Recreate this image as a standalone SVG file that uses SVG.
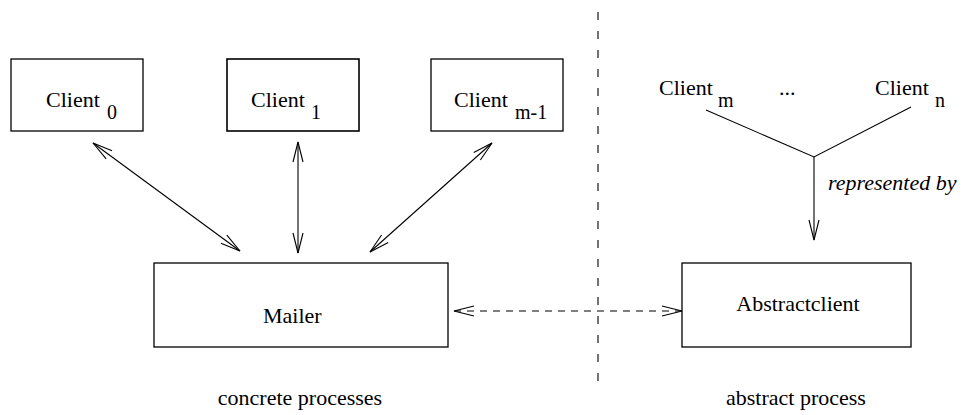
<svg xmlns="http://www.w3.org/2000/svg" width="971" height="415" viewBox="0 0 971 415">
  <style>
    .box { fill: #fff; stroke: #000; stroke-width: 1.3; }
    .lbl { font-family: "Liberation Serif", "Times New Roman", serif; font-size: 22px; fill: #000; }
    .sub { font-family: "Liberation Serif", "Times New Roman", serif; font-size: 20px; fill: #000; }
    .ital { font-style: italic; }
    .mid { text-anchor: middle; }
    .edge { fill: none; stroke: #000; stroke-width: 1.1; }
    .dash { stroke-dasharray: 7 6; }
    .vdash { fill: none; stroke: #000; stroke-width: 1.1; stroke-dasharray: 8 11; }
  </style>
  <defs>
    <marker id="open" viewBox="-22 -7 24 14" refX="0" refY="0" markerWidth="24" markerHeight="14" markerUnits="userSpaceOnUse" orient="auto-start-reverse">
      <path d="M-20,-5 L0,0 L-20,5" fill="none" stroke="#000" stroke-width="1.1"/>
    </marker>
  </defs>

  <!-- separator between concrete and abstract sides -->
  <line class="vdash" x1="598" y1="12" x2="598" y2="390"/>

  <g id="client0">
    <rect class="box" x="11" y="59" width="132" height="72"/>
    <text class="lbl" x="46" y="107">Client</text>
    <text class="sub" x="107" y="119">0</text>
  </g>
  <g id="client1">
    <rect class="box" x="227" y="59" width="132" height="72" style="stroke-width:1.6"/>
    <text class="lbl" x="251" y="107">Client</text>
    <text class="sub" x="311" y="119">1</text>
  </g>
  <g id="client-m-1">
    <rect class="box" x="431" y="59" width="132" height="72"/>
    <text class="lbl" x="454" y="107">Client</text>
    <text class="sub" x="515" y="119">m-1</text>
  </g>
  <g id="mailer">
    <rect class="box" x="154" y="263" width="294" height="84"/>
    <text class="lbl" x="263" y="323">Mailer</text>
  </g>
  <g id="abstractclient">
    <rect class="box" x="682" y="263" width="229" height="84"/>
    <text class="lbl mid" x="798" y="311">Abstractclient</text>
  </g>
  <g id="client-m">
    <text class="lbl" x="659" y="95">Client</text>
    <text class="sub" x="718" y="107">m</text>
  </g>
  <g id="ellipsis">
    <text class="lbl" x="779" y="95">...</text>
  </g>
  <g id="client-n">
    <text class="lbl" x="875" y="95">Client</text>
    <text class="sub" x="935" y="107">n</text>
  </g>

  <g id="connectors">
    <line class="edge" x1="93" y1="143" x2="240" y2="251" marker-start="url(#open)" marker-end="url(#open)"/>
    <line class="edge" x1="298" y1="142" x2="298" y2="253" marker-start="url(#open)" marker-end="url(#open)"/>
    <line class="edge" x1="492" y1="143" x2="370" y2="252" marker-start="url(#open)" marker-end="url(#open)"/>
    <line class="edge dash" x1="454" y1="311" x2="682" y2="311" marker-start="url(#open)" marker-end="url(#open)"/>
    <polyline class="edge" points="706,110 814,157 911,107"/>
    <line class="edge" x1="814" y1="157" x2="814" y2="240" marker-end="url(#open)"/>
    <text class="lbl ital" x="828" y="190">represented by</text>
  </g>

  <text class="lbl mid" x="300" y="405">concrete processes</text>
  <text class="lbl mid" x="796" y="405">abstract process</text>
</svg>
